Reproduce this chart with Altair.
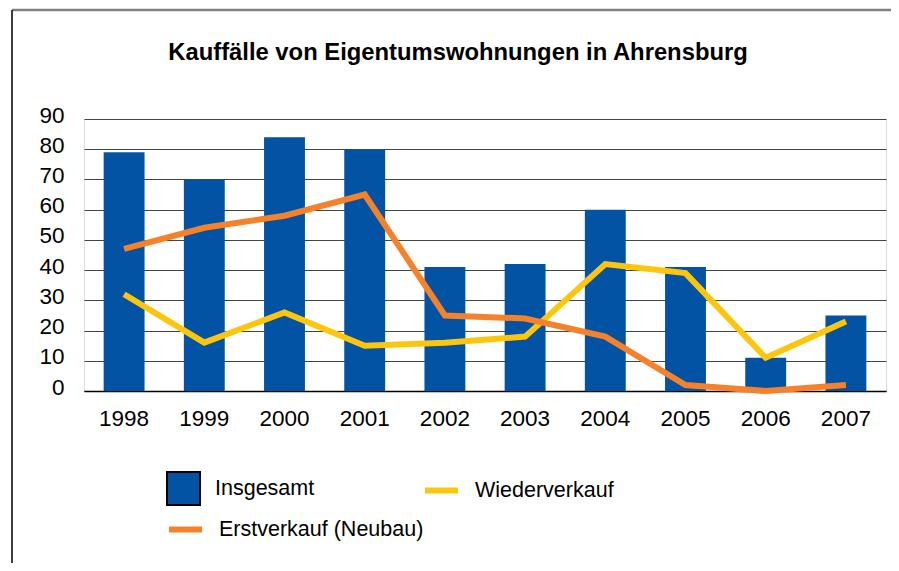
import altair as alt
import pandas as pd

years = ["1998", "1999", "2000", "2001", "2002", "2003", "2004", "2005", "2006", "2007"]
insgesamt = [79, 70, 84, 80, 41, 42, 60, 41, 11, 25]
erstverkauf = [47, 54, 58, 65, 25, 24, 18, 2, 0, 2]
wiederverkauf = [32, 16, 26, 15, 16, 18, 42, 39, 11, 23]
y_ticks = [0, 10, 20, 30, 40, 50, 60, 70, 80, 90]

S_INS = "Insgesamt"
S_ERST = "Erstverkauf (Neubau)"
S_WIED = "Wiederverkauf"

BLUE = "#0353A4"
ORANGE = "#F5822A"
YELLOW = "#FEC50D"
FONT = "Liberation Sans"

bars_df = pd.DataFrame({"Jahr": years, "Wert": insgesamt, "Reihe": S_INS})
erst_df = pd.DataFrame({"Jahr": years, "Wert": erstverkauf, "Reihe": S_ERST})
wied_df = pd.DataFrame({"Jahr": years, "Wert": wiederverkauf, "Reihe": S_WIED})

x_enc = alt.X(
    "Jahr:N",
    sort=years,
    scale=alt.Scale(paddingInner=0.49, paddingOuter=0.245),
    axis=alt.Axis(
        title=None, labelAngle=0, ticks=False, domain=True, domainColor="black",
        domainWidth=1.5, labelFont=FONT, labelFontSize=22.5, labelColor="black",
        labelPadding=16, grid=False,
    ),
)
y_enc = alt.Y(
    "Wert:Q",
    scale=alt.Scale(domain=[0, 90], nice=False),
    axis=alt.Axis(
        title=None, values=y_ticks, ticks=False, domain=False, grid=True,
        gridColor="#444444", gridWidth=1, labelFont=FONT, labelFontSize=22.5,
        labelColor="black", labelPadding=20, labelBaseline="middle", labelOffset=-4,
    ),
)

leg_common = dict(
    orient="none", title=None, labelFont=FONT, labelFontSize=21.5, labelColor="black",
    labelOffset=14, symbolSize=1089, labelLimit=400,
)

bars = alt.Chart(bars_df).mark_bar().encode(
    x=x_enc,
    y=y_enc,
    fill=alt.Fill(
        "Reihe:N",
        scale=alt.Scale(domain=[S_INS], range=[BLUE]),
        legend=alt.Legend(
            legendX=82, legendY=352, symbolType="square",
            symbolStrokeColor="black", symbolStrokeWidth=2, symbolFillColor=BLUE,
            **leg_common,
        ),
    ),
)

line_wied = alt.Chart(wied_df).mark_line(strokeWidth=6).encode(
    x=x_enc,
    y=y_enc,
    stroke=alt.Stroke(
        "Reihe:N",
        scale=alt.Scale(domain=[S_WIED], range=[YELLOW]),
        legend=alt.Legend(
            legendX=338, legendY=352, symbolType="stroke", symbolStrokeWidth=6,
            **leg_common,
        ),
    ),
)

line_erst = alt.Chart(erst_df).mark_line(strokeWidth=6).encode(
    x=x_enc,
    y=y_enc,
    color=alt.Color(
        "Reihe:N",
        scale=alt.Scale(domain=[S_ERST], range=[ORANGE]),
        legend=alt.Legend(
            legendX=82, legendY=391, symbolType="stroke", symbolStrokeWidth=6,
            **leg_common,
        ),
    ),
)

frame_df = pd.DataFrame({"f": [0]})
frame_top = alt.Chart(frame_df).mark_rule(color="#808080", strokeWidth=2.5).encode(
    x=alt.value(-72), x2=alt.value(815), y=alt.value(-109)
)
frame_left = alt.Chart(frame_df).mark_rule(color="black", strokeWidth=1.5).encode(
    x=alt.value(-72), y=alt.value(-109), y2=alt.value(452)
)

chart = alt.layer(frame_top, frame_left, bars, line_wied, line_erst).properties(
    width=802,
    height=272,
    padding={"left": 76, "top": 111, "right": 5, "bottom": 172},
    autosize=alt.AutoSizeParams(type="none"),
    title=alt.TitleParams(
        "Kauffälle von Eigentumswohnungen in Ahrensburg",
        font=FONT, fontSize=23.8, fontWeight="bold", color="black",
        anchor="middle", dx=-27, offset=-75, baseline="alphabetic",
    ),
).configure_view(stroke=None).configure(background="white")

chart.save("out.html", embed_options={"renderer": "svg", "actions": False})
